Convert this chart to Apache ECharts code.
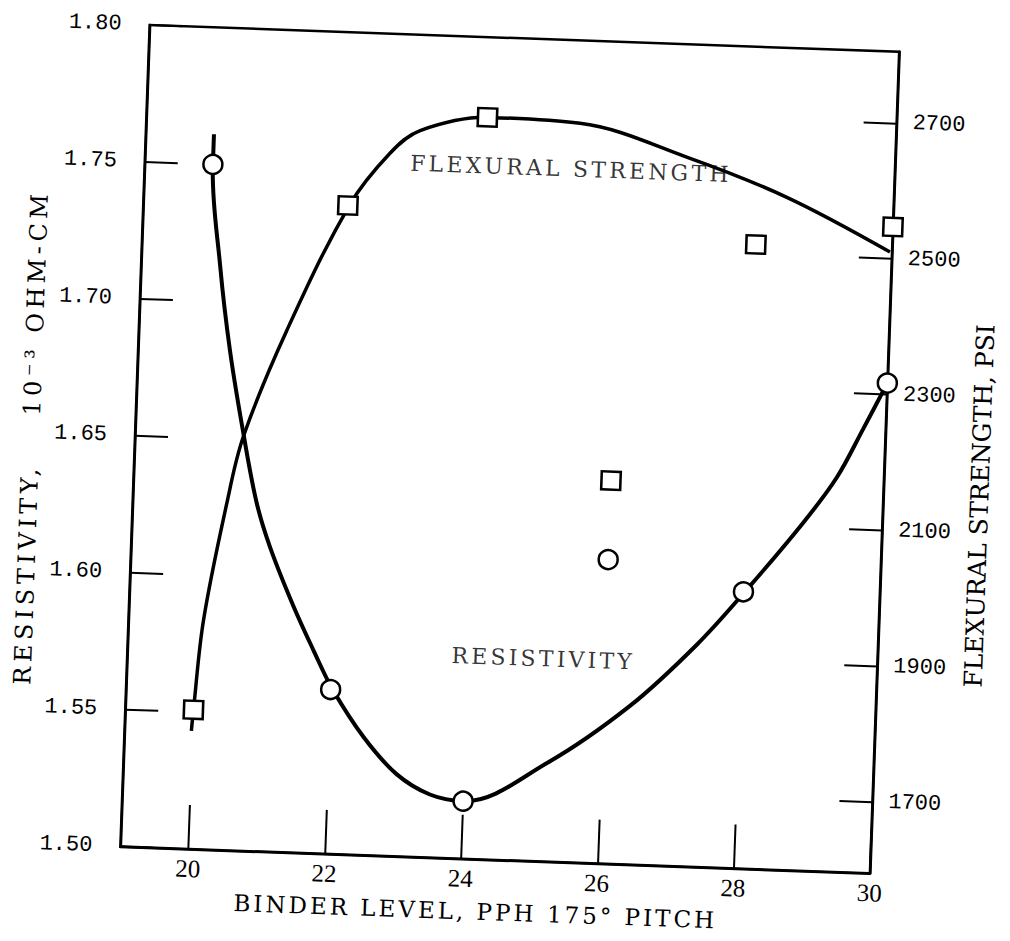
<!DOCTYPE html>
<html><head><meta charset="utf-8">
<script src="https://cdn.jsdelivr.net/npm/echarts@6/dist/echarts.min.js"></script>
<style>
html,body{margin:0;padding:0;background:#fff;overflow:hidden}
#chart{width:1010px;height:941px;transform:rotate(2.04deg);transform-origin:505px 470.5px}
/* the typed lettering of the original is widely spaced */
#chart text[style*="22px"][style*="DejaVu Serif"]{letter-spacing:3.2px}
#chart text[style*="23px"][style*="DejaVu Serif"]{letter-spacing:3px}
#chart text[style*="24px"][style*="DejaVu Serif"]{letter-spacing:4.5px}
</style></head><body><div id="chart"></div>
<script>
// ---- data ----
const xTicks = [20, 22, 24, 26, 28, 30];
const psiTicks = [1700, 1900, 2100, 2300, 2500, 2700];

// measured points (circles = resistivity, squares = flexural strength)
const resistX = [20, 22, 24, 26, 28, 30];
const resistY = [1.750, 1.560, 1.521, 1.611, 1.601, 1.679];
const flexX = [20, 22, 24, 26, 28, 30];
const flexY = [1800, 2550, 2687, 2159, 2514, 2547];

// hand-drawn fitted curves
const resistCurveX = [20.00, 20.00, 20.16, 20.35, 20.59, 20.82, 21.04, 21.41, 21.73, 22.03, 22.51, 23.01, 23.51, 24.00, 25.21, 26.40, 27.34, 28.02, 28.84, 29.31, 29.67, 30.00];
const resistCurveY = [1.761, 1.750, 1.713, 1.682, 1.652, 1.627, 1.611, 1.590, 1.574, 1.560, 1.543, 1.530, 1.523, 1.521, 1.536, 1.558, 1.581, 1.601, 1.627, 1.644, 1.662, 1.679];
const flexCurveX = [19.98, 20.00, 20.10, 20.38, 20.59, 21.17, 22.02, 22.59, 23.02, 24.03, 25.36, 26.94, 28.43, 29.97];
const flexCurveY = [1769, 1800, 1932, 2105, 2205, 2363, 2550, 2629, 2664, 2687, 2683, 2639, 2585, 2510];

// in-plot captions (centre positions in data units of the left axis)
const captionText = ['FLEXURAL STRENGTH', 'RESISTIVITY'];
const captionX = [25.25, 25.10];
const captionY = [1.753, 1.574];

const zip = (a, b) => a.map((v, i) => [v, b[i]]);

const chart = echarts.init(document.getElementById('chart'), null, { renderer: 'svg' });
chart.setOption({
  backgroundColor: '#fff',
  animation: false,
  grid: { left: 134, top: 38, width: 750, height: 822, show: true, borderColor: '#000', borderWidth: 2.5, outerBoundsMode: 'none' },
  xAxis: {
    type: 'value', min: 19, max: 30,
    name: 'BINDER LEVEL, PPH 175° PITCH', nameLocation: 'middle', nameGap: 41,
    nameTextStyle: { fontFamily: 'DejaVu Serif', fontSize: 23, color: '#000', padding: [0, 36, 0, 0] },
    axisLine: { show: true, lineStyle: { color: '#000', width: 2.5 } },
    axisTick: { show: true, inside: true, length: 44, customValues: xTicks, lineStyle: { color: '#000', width: 2 } },
    axisLabel: { customValues: xTicks, margin: 7, fontFamily: 'Liberation Serif', fontSize: 25, color: '#000' },
    splitLine: { show: false }
  },
  yAxis: [{
    type: 'value', min: 1.5, max: 1.8, interval: 0.05, position: 'left',
    name: 'RESISTIVITY,    10⁻³ OHM-CM', nameLocation: 'middle', nameGap: 90, nameRotate: 90,
    nameTextStyle: { fontFamily: 'DejaVu Serif', fontSize: 24, color: '#000', padding: [0, 10, 0, 0] },
    axisLine: { show: true, lineStyle: { color: '#000', width: 2.5 } },
    axisTick: { show: true, inside: true, length: 33, lineStyle: { color: '#000', width: 2 } },
    axisLabel: { margin: 28, fontFamily: 'Liberation Mono', fontSize: 22, color: '#000', formatter: v => v.toFixed(2) },
    splitLine: { show: false }
  }, {
    type: 'value', min: 1595, max: 2805, position: 'right',
    name: 'FLEXURAL STRENGTH, PSI', nameLocation: 'middle', nameGap: 84, nameRotate: 90,
    nameTextStyle: { fontFamily: 'DejaVu Serif', fontSize: 25, color: '#000', padding: [0, 80, 0, 0] },
    axisLine: { show: true, lineStyle: { color: '#000', width: 2.5 } },
    axisTick: { show: true, inside: true, length: 33, customValues: psiTicks, lineStyle: { color: '#000', width: 2 } },
    axisLabel: { customValues: psiTicks, margin: 16, fontFamily: 'Liberation Mono', fontSize: 22, color: '#000', formatter: v => String(v) },
    splitLine: { show: false }
  }],
  series: [
    { name: 'Resistivity curve', type: 'line', yAxisIndex: 0, data: zip(resistCurveX, resistCurveY), smooth: 0.35, showSymbol: false, lineStyle: { color: '#000', width: 4 }, z: 2 },
    { name: 'Flexural curve', type: 'line', yAxisIndex: 1, data: zip(flexCurveX, flexCurveY), smooth: 0.35, showSymbol: false, lineStyle: { color: '#000', width: 3.5 }, z: 2 },
    { name: 'Resistivity', type: 'scatter', yAxisIndex: 0, data: zip(resistX, resistY), symbol: 'circle', symbolSize: 19, itemStyle: { color: '#fff', borderColor: '#000', borderWidth: 2.5, opacity: 1 }, z: 5 },
    { name: 'Flexural strength', type: 'scatter', yAxisIndex: 1, data: zip(flexX, flexY), symbol: 'rect', symbolSize: [19, 18], itemStyle: { color: '#fff', borderColor: '#000', borderWidth: 2.5, opacity: 1 }, z: 5 },
    { name: 'captions', type: 'scatter', yAxisIndex: 0, symbolSize: 0, silent: true,
      data: captionText.map((t, i) => ({ name: t, value: [captionX[i], captionY[i]] })),
      label: { show: true, position: 'inside', formatter: p => p.name, fontFamily: 'DejaVu Serif', fontSize: 22, color: '#000', textBorderWidth: 0 }, z: 6 }
  ]
});
</script></body></html>
